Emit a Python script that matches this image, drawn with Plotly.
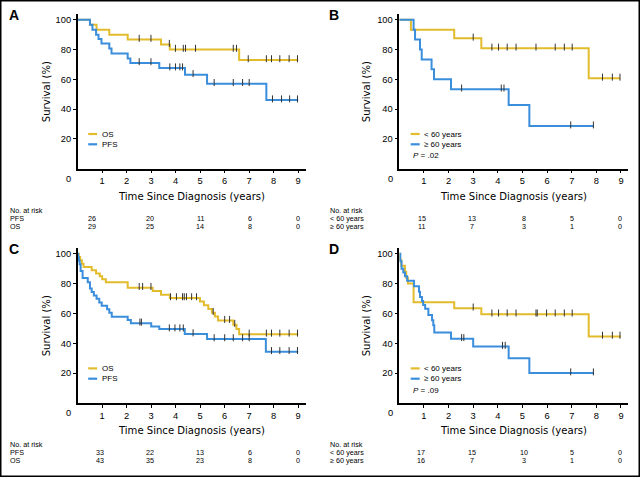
import numpy as np
import plotly.graph_objects as go

GOLD = "#E2BC2C"
BLUE = "#3B8EDC"
W, H = 640, 477

# ---------------- data ----------------
# Panel A: OS / PFS
A_os_t = [0, 0.5, 0.77, 1.29, 2.04, 3.4, 3.76, 6.59, 9.0]
A_os_s = [100, 96.7, 93.3, 90.0, 86.7, 83.3, 80.0, 73.0, 73.0]
A_os_c = [2.51, 2.99, 3.74, 3.99, 4.31, 4.4, 4.81, 6.35, 6.48, 6.96, 7.7, 7.91, 8.25, 8.63, 8.97]
A_pfs_t = [0, 0.5, 0.6, 0.75, 0.85, 0.97, 1.29, 1.38, 2.04, 2.15, 3.33, 4.38, 5.28, 7.7, 9.0]
A_pfs_s = [100, 96.7, 93.3, 90.0, 87.0, 84.0, 80.7, 77.3, 74.0, 71.0, 67.5, 63.0, 57.0, 46.0, 46.0]
A_pfs_c = [2.51, 2.99, 3.76, 3.99, 4.17, 4.28, 4.71, 5.57, 6.35, 6.73, 7.0, 7.95, 8.32, 8.65, 8.97]
A_risk_labels = ["PFS", "OS"]
A_risk = [[26, 20, 11, 6, 0], [29, 25, 14, 8, 0]]
A_risk_x = [0.6, 2.97, 5.0, 7.02, 9.0]

# Panel B: OS by age
B_lt_t = [0, 0.47, 2.23, 3.33, 7.69, 8.97]
B_lt_s = [100, 93.3, 87.5, 80.8, 60.6, 60.6]
B_lt_c = [3.0, 3.76, 4.03, 4.38, 4.74, 5.55, 6.33, 6.7, 7.02, 8.25, 8.65, 8.96]
B_ge_t = [0, 0.58, 0.64, 0.84, 0.91, 1.31, 1.41, 2.1, 4.44, 5.28, 7.88]
B_ge_s = [100, 93.3, 86.7, 80.0, 73.3, 66.7, 60.0, 53.3, 42.7, 28.5, 28.5]
B_ge_c = [2.53, 4.14, 4.25, 6.96, 7.88]
B_risk_labels = ["< 60 years", "\u2265 60 years"]
B_risk = [[15, 13, 8, 5, 0], [11, 7, 3, 1, 0]]
B_risk_x = [0.92, 2.94, 5.05, 7.02, 8.97]

# Panel C: OS / PFS
C_os_t = [0, 0.04, 0.1, 0.17, 0.24, 0.57, 0.75, 0.9, 1.0, 1.15, 2.04, 3.06, 3.4, 3.76,
          4.99, 5.15, 5.33, 5.48, 5.6, 5.73, 6.35, 6.48, 6.59, 9.0]
C_os_s = [100, 97.8, 95.6, 93.4, 91.2, 89.0, 86.8, 85.0, 83.0, 81.0, 77.3, 75.0, 72.6, 70.4,
          68.0, 65.5, 63.0, 60.5, 58.0, 55.2, 52.5, 49.5, 46.0, 46.0]
C_os_c = [2.51, 2.65, 2.99, 3.79, 4.03, 4.28, 4.35, 4.44, 4.65, 4.85, 5.53, 6.0, 6.2, 6.41,
          7.0, 7.7, 7.91, 8.25, 8.63, 8.97]
C_pfs_t = [0, 0.02, 0.05, 0.08, 0.12, 0.2, 0.41, 0.5, 0.57, 0.66, 0.77, 0.88, 0.98, 1.2,
           1.29, 1.39, 2.04, 2.17, 3.0, 3.33, 4.37, 5.28, 7.68, 9.0]
C_pfs_s = [100, 97.7, 95.3, 93.0, 88.4, 83.7, 81.0, 76.7, 74.4, 72.1, 69.8, 67.4, 65.1, 62.8,
           60.5, 57.8, 55.6, 53.4, 51.2, 49.5, 46.2, 42.9, 34.3, 34.3]
C_pfs_c = [2.54, 2.6, 3.74, 3.97, 4.17, 4.31, 4.71, 5.57, 6.0, 6.35, 6.73, 7.0, 7.91, 8.25, 8.63, 8.97]
C_risk_labels = ["PFS", "OS"]
C_risk = [[33, 22, 13, 6, 0], [43, 35, 23, 8, 0]]
C_risk_x = [0.91, 2.97, 5.0, 7.02, 9.0]

# Panel D: PFS by age
D_lt_t = [0, 0.03, 0.08, 0.23, 0.28, 0.35, 0.58, 2.23, 3.33, 7.69, 9.0]
D_lt_s = [100, 96.0, 92.0, 88.0, 84.0, 80.0, 67.5, 63.5, 59.5, 44.6, 44.6]
D_lt_c = [3.0, 3.76, 4.03, 4.38, 4.74, 5.55, 5.6, 5.98, 6.33, 6.7, 7.02, 8.25, 8.65, 8.96]
D_ge_t = [0, 0.04, 0.09, 0.16, 0.23, 0.32, 0.6, 0.8, 0.84, 0.92, 0.97, 1.05, 1.18, 1.33,
          1.38, 1.42, 2.1, 3.0, 4.44, 5.28, 7.9]
D_ge_s = [100, 95.0, 90.0, 87.5, 85.0, 82.0, 78.3, 74.5, 71.0, 68.3, 65.6, 63.1, 58.9, 55.5,
          52.0, 47.3, 43.0, 37.8, 30.0, 20.0, 20.0]
D_ge_c = [2.53, 2.62, 4.19, 4.3, 6.96, 7.88]
D_risk_labels = ["< 60 years", "\u2265 60 years"]
D_risk = [[17, 15, 10, 5, 0], [16, 7, 3, 1, 0]]
D_risk_x = [0.88, 2.94, 5.05, 7.02, 8.97]

x_ticks = [1, 2, 3, 4, 5, 6, 7, 8, 9]
y_ticks = [20, 40, 60, 80, 100]
x_title = "Time Since Diagnosis (years)"
y_title = "Survival (%)"

# ---------------- layout helpers ----------------
def py(y):
    return 1 - y / H

panels = [
    dict(letter="A", ax="", curves=[(A_os_t, A_os_s, A_os_c, GOLD), (A_pfs_t, A_pfs_s, A_pfs_c, BLUE)],
         legend=["OS", "PFS"], p=None, risk_labels=A_risk_labels, risk=A_risk, risk_x=A_risk_x,
         x0=77.7, unit=24.5, ybot=168.5, yunit=1.4875, left=0, top=0),
    dict(letter="B", ax="2", curves=[(B_lt_t, B_lt_s, B_lt_c, GOLD), (B_ge_t, B_ge_s, B_ge_c, BLUE)],
         legend=["< 60 years", "\u2265 60 years"], p=".02", risk_labels=B_risk_labels, risk=B_risk,
         risk_x=B_risk_x, x0=399.3, unit=24.63, ybot=168.5, yunit=1.4875, left=320, top=0),
    dict(letter="C", ax="3", curves=[(C_os_t, C_os_s, C_os_c, GOLD), (C_pfs_t, C_pfs_s, C_pfs_c, BLUE)],
         legend=["OS", "PFS"], p=None, risk_labels=C_risk_labels, risk=C_risk, risk_x=C_risk_x,
         x0=77.7, unit=24.5, ybot=402.9, yunit=1.491, left=0, top=234),
    dict(letter="D", ax="4", curves=[(D_lt_t, D_lt_s, D_lt_c, GOLD), (D_ge_t, D_ge_s, D_ge_c, BLUE)],
         legend=["< 60 years", "\u2265 60 years"], p=".09", risk_labels=D_risk_labels, risk=D_risk,
         risk_x=D_risk_x, x0=399.3, unit=24.63, ybot=402.9, yunit=1.491, left=320, top=234),
]

XMAX, YMAX = 9.3, 104
FONT = "Liberation Sans, Arial, sans-serif"
NARROW = "DejaVu Sans Condensed, Liberation Sans Narrow, Liberation Sans, sans-serif"
SMALL = 7.2

fig = go.Figure()
annotations = []
shapes = []

for pn in panels:
    xa, ya = "x" + pn["ax"], "y" + pn["ax"]
    for t, s, c, col in pn["curves"]:
        fig.add_trace(go.Scatter(x=t, y=s, mode="lines", line=dict(color=col, width=2, shape="hv"),
                                 xaxis=xa, yaxis=ya, showlegend=False, hoverinfo="skip"))
        t_arr, s_arr = np.array(t), np.array(s)
        idx = np.searchsorted(t_arr, np.array(c), side="right") - 1
        fig.add_trace(go.Scatter(x=c, y=s_arr[idx] + 0.8, mode="markers",
                                 marker=dict(symbol="line-ns", size=5, color="#333",
                                             line=dict(color="#333", width=1)),
                                 xaxis=xa, yaxis=ya, showlegend=False, hoverinfo="skip"))
    x_end = pn["x0"] + pn["unit"] * XMAX
    y_top = pn["ybot"] - pn["yunit"] * YMAX
    xdom = [pn["x0"] / W, x_end / W]
    ydom = [py(pn["ybot"]), py(y_top)]
    axx = dict(domain=xdom, range=[0, XMAX], anchor=ya, tickvals=x_ticks, showline=True,
               linecolor="black", linewidth=1.5, ticks="outside", ticklen=3, tickwidth=1,
               tickcolor="black", showgrid=False, zeroline=False,
               tickfont=dict(size=9.3, family=FONT, color="black"))
    axy = dict(domain=ydom, range=[0, YMAX], anchor=xa, tickvals=y_ticks, showline=True,
               linecolor="black", linewidth=1.5, ticks="outside", ticklen=3, tickwidth=1,
               tickcolor="black", showgrid=False, zeroline=False,
               tickfont=dict(size=9.3, family=FONT, color="black"))
    fig.layout["xaxis" + pn["ax"]] = axx
    fig.layout["yaxis" + pn["ax"]] = axy

    # axis titles
    annotations.append(dict(text=x_title, x=(pn["x0"] + x_end) / 2 / W, y=py(pn["ybot"] + 28),
                            xref="paper", yref="paper", xanchor="center", yanchor="middle",
                            showarrow=False, font=dict(size=11.2, family=NARROW, color="black")))
    annotations.append(dict(text=y_title, x=(pn["left"] + 46) / W,
                            y=py((pn["ybot"] + y_top) / 2 + 1), xref="paper", yref="paper",
                            xanchor="center", yanchor="middle", textangle=-90, showarrow=False,
                            font=dict(size=11.2, family=NARROW, color="black")))
    # origin "0"
    annotations.append(dict(text="0", x=0, y=0, xref=xa, yref=ya, xshift=-9, yshift=-10,
                            showarrow=False, font=dict(size=9.3, family=FONT, color="black")))
    # panel letter
    annotations.append(dict(text="<b>%s</b>" % pn["letter"], x=(pn["left"] + 7) / W,
                            y=py(pn["top"] + 14.5), xref="paper", yref="paper", xanchor="left",
                            yanchor="middle", showarrow=False,
                            font=dict(size=14, family=FONT, color="black")))
    # legend
    leg_y = [pn["ybot"] - 34.5, pn["ybot"] - 24.2]
    lx0 = pn["x0"] + (10.5 if pn["left"] == 0 else 11.4)
    for lab, (_, _, _, col), yy in zip(pn["legend"], pn["curves"], leg_y):
        shapes.append(dict(type="line", xref="paper", yref="paper", x0=lx0 / W, x1=(lx0 + 9) / W,
                           y0=py(yy), y1=py(yy), line=dict(color=col, width=2.2)))
        annotations.append(dict(text=lab, x=(lx0 + 11.5) / W, y=py(yy), xref="paper", yref="paper",
                                xanchor="left", yanchor="middle", showarrow=False,
                                font=dict(size=8, family=FONT, color="black")))
    if pn["p"]:
        annotations.append(dict(text="<i>P</i> = %s" % pn["p"], x=lx0 / W, y=py(pn["ybot"] - 12.5),
                                xref="paper", yref="paper", xanchor="left", yanchor="middle",
                                showarrow=False, font=dict(size=8, family=FONT, color="black")))
    # at-risk table
    rows_y = [pn["ybot"] + 42.0, pn["ybot"] + 50.0, pn["ybot"] + 57.8]
    annotations.append(dict(text="No. at risk", x=(pn["left"] + 8) / W, y=py(rows_y[0]),
                            xref="paper", yref="paper", xanchor="left", yanchor="middle",
                            showarrow=False, font=dict(size=SMALL, family=FONT, color="black")))
    for lab, vals, yy in zip(pn["risk_labels"], pn["risk"], rows_y[1:]):
        annotations.append(dict(text=lab, x=(pn["left"] + 8) / W, y=py(yy), xref="paper",
                                yref="paper", xanchor="left", yanchor="middle", showarrow=False,
                                font=dict(size=SMALL, family=FONT, color="black")))
        for xv, v in zip(pn["risk_x"], vals):
            annotations.append(dict(text=str(v), x=xv, y=py(yy), xref=xa, yref="paper",
                                    xanchor="center", yanchor="middle", showarrow=False,
                                    font=dict(size=SMALL, family=FONT, color="black")))

# outer frame
shapes.append(dict(type="rect", xref="paper", yref="paper", x0=0, y0=0, x1=1, y1=1,
                   line=dict(color="black", width=3), fillcolor="rgba(0,0,0,0)"))

fig.update_layout(width=W, height=H, margin=dict(l=0, r=0, t=0, b=0),
                  paper_bgcolor="white", plot_bgcolor="white",
                  annotations=annotations, shapes=shapes,
                  font=dict(family=FONT, color="black"))

fig.write_html("out.html", config={"displayModeBar": False},
               post_script="document.body.style.margin='0';document.body.style.overflow='hidden';")
